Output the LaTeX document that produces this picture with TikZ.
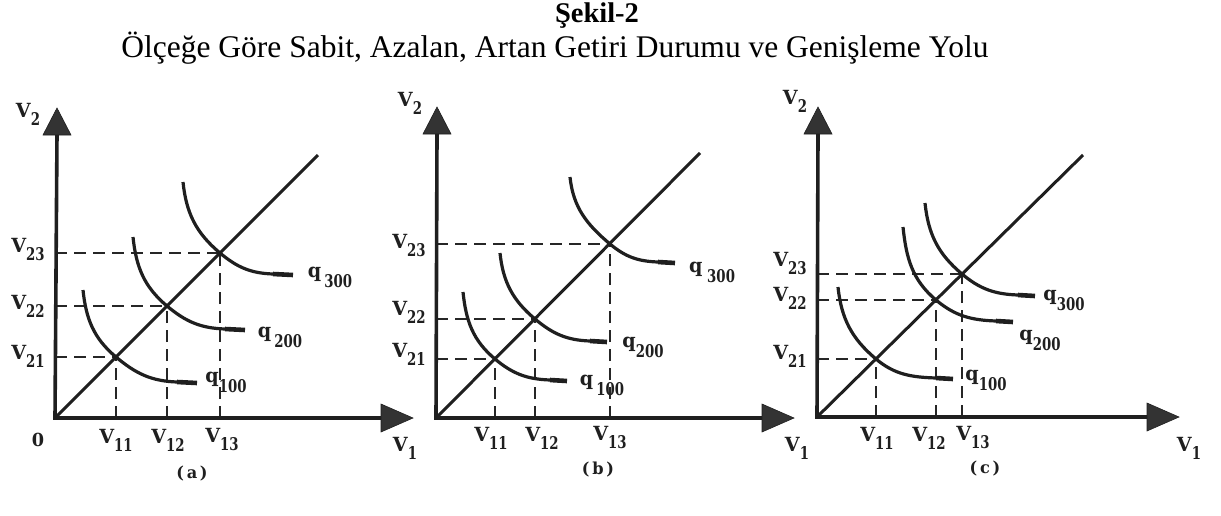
\documentclass[tikz,border=0pt]{standalone}
\usepackage{fontspec}
\setmainfont{Liberation Serif}
\newfontfamily\labV{DejaVu Serif}[FakeStretch=0.98]
\newfontfamily\labD{DejaVu Serif}[FakeStretch=0.76]
\newcommand\lv[2]{{\labV\bfseries\fontsize{19.5}{19.5}\selectfont #1}\raisebox{-8pt}{\labD\bfseries\fontsize{17.5}{17.5}\selectfont #2}}
\newcommand\qlab[2]{{\labV\bfseries\fontsize{19.5}{19.5}\selectfont #1}\raisebox{-10pt}{\labD\bfseries\fontsize{17.5}{17.5}\selectfont #2}}
\newcommand\caplab[1]{{\labV\bfseries\fontsize{16.5}{16.5}\selectfont(\,#1\,)}}
\begin{document}
\begin{tikzpicture}[x=1pt,y=1pt,
  axis/.style={line width=3.6pt, draw=black!88},
  ahead/.style={fill=black!80, draw=black!88, line width=0.6pt, line join=miter},
  ray/.style={line width=3pt, draw=black!88},
  iso/.style={line width=3.2pt, draw=black!88},
  isoend/.style={line width=4.6pt, draw=black!88},
  guide/.style={line width=2pt, draw=black!85, dash pattern=on 12pt off 7pt},
  lab/.style={inner sep=0pt, text=black!88}]
\useasboundingbox (0,-515) rectangle (1221,0);

% ---------- title ----------
\node[anchor=base, inner sep=0pt, font=\bfseries\fontsize{28.5}{28.5}\selectfont] (t1) at (597,-22) {Şekil-2};
\node[anchor=base, inner sep=0pt, font=\fontsize{31.5}{31.5}\selectfont] (t2) at (555,-57) {Ölçeğe Göre Sabit, Azalan, Artan Getiri Durumu ve Genişleme Yolu};

% ================= panel (a) =================
\coordinate (aO) at (55,-418);
\coordinate (aYb) at (57,-134); \coordinate (aYt) at (57,-108);
\coordinate (aXb) at (381,-418); \coordinate (aXt) at (413,-418);
\coordinate (aD) at (318,-155);
\coordinate (a1) at (116,-357);
\coordinate (a2) at (167,-306);
\coordinate (a3) at (220,-253);
\draw[guide] (aO |- a1) -- (a1); \draw[guide] (a1 |- aO) -- (a1);
\draw[guide] (aO |- a2) -- (a2); \draw[guide] (a2 |- aO) -- (a2);
\draw[guide] (aO |- a3) -- (a3); \draw[guide] (a3 |- aO) -- (a3);
\draw[axis] (aYb) -- (aO) -- (aXb);
\fill[ahead] (aYt) -- ++(-14,-27) -- ++(28,0) -- cycle;
\fill[ahead] (aXt) -- ++(-32,14) -- ++(0,-28) -- cycle;
\draw[ray] (aO) -- (aD);
\coordinate (aS1) at (83,-290); \coordinate (aE1) at (197,-383); \coordinate (aF1) at (177,-382);
\coordinate (aS2) at (133,-237); \coordinate (aE2) at (245,-330); \coordinate (aF2) at (225,-329);
\coordinate (aS3) at (183,-182); \coordinate (aE3) at (293,-275); \coordinate (aF3) at (273,-274);
\draw[iso] (aS1) to[out=-84,in=140] (a1) to[out=-40,in=178] (aF1);
\draw[isoend] (aF1) -- (aE1);
\draw[iso] (aS2) to[out=-84,in=140] (a2) to[out=-40,in=178] (aF2);
\draw[isoend] (aF2) -- (aE2);
\draw[iso] (aS3) to[out=-84,in=140] (a3) to[out=-40,in=178] (aF3);
\draw[isoend] (aF3) -- (aE3);
\node[lab] (aV2) at (28,-114) {\lv{V}{2}};
\node[lab] (aV23) at (28,-250) {\lv{V}{23}};
\node[lab] (aV22) at (28,-306) {\lv{V}{22}};
\node[lab] (aV21) at (28,-356) {\lv{V}{21}};
\node[lab] (a0) at (38,-440) {\labV\bfseries\fontsize{18}{18}\selectfont 0};
\node[lab] (aV11) at (116,-440) {\lv{V}{11}};
\node[lab] (aV12) at (168,-440) {\lv{V}{12}};
\node[lab] (aV13) at (222,-440) {\lv{V}{13}};
\node[lab] (aV1) at (405,-448) {\lv{V}{1}};
\node[lab] (aq100) at (226,-382) {\qlab{q}{100}};
\node[lab] (aq200) at (280,-337) {\qlab{q}{\,200}};
\node[lab] (aq300) at (330,-277) {\qlab{q}{\,300}};
\node[lab] (acap) at (192,-474) {\caplab{a}};

% ================= panel (b) =================
\coordinate (bO) at (436,-418);
\coordinate (bYb) at (437,-134); \coordinate (bYt) at (437,-107);
\coordinate (bXb) at (762,-418); \coordinate (bXt) at (794,-418);
\coordinate (bD) at (700,-153);
\coordinate (b1) at (495,-359);
\coordinate (b2) at (535,-319);
\coordinate (b3) at (610,-244);
\draw[guide] (bO |- b1) -- (b1); \draw[guide] (b1 |- bO) -- (b1);
\draw[guide] (bO |- b2) -- (b2); \draw[guide] (b2 |- bO) -- (b2);
\draw[guide] (bO |- b3) -- (b3); \draw[guide] (b3 |- bO) -- (b3);
\draw[axis] (bYb) -- (bO) -- (bXb);
\fill[ahead] (bYt) -- ++(-14,-27) -- ++(28,0) -- cycle;
\fill[ahead] (bXt) -- ++(-32,14) -- ++(0,-28) -- cycle;
\draw[ray] (bO) -- (bD);
\coordinate (bS1) at (463,-292); \coordinate (bE1) at (567,-381); \coordinate (bF1) at (550,-380);
\coordinate (bS2) at (500,-253); \coordinate (bE2) at (607,-342); \coordinate (bF2) at (590,-341);
\coordinate (bS3) at (570,-177); \coordinate (bE3) at (675,-263); \coordinate (bF3) at (658,-262);
\draw[iso] (bS1) to[out=-84,in=140] (b1) to[out=-40,in=178] (bF1);
\draw[isoend] (bF1) -- (bE1);
\draw[iso] (bS2) to[out=-84,in=140] (b2) to[out=-40,in=178] (bF2);
\draw[isoend] (bF2) -- (bE2);
\draw[iso] (bS3) to[out=-84,in=140] (b3) to[out=-40,in=178] (bF3);
\draw[isoend] (bF3) -- (bE3);
\node[lab] (bV2) at (410,-103) {\lv{V}{2}};
\node[lab] (bV23) at (409,-246) {\lv{V}{23}};
\node[lab] (bV22) at (409,-312) {\lv{V}{22}};
\node[lab] (bV21) at (409,-354) {\lv{V}{21}};
\node[lab] (bV11) at (491,-438) {\lv{V}{11}};
\node[lab] (bV12) at (542,-438) {\lv{V}{12}};
\node[lab] (bV13) at (610,-438) {\lv{V}{13}};
\node[lab] (bV1) at (797,-448) {\lv{V}{1}};
\node[lab] (bq100) at (602,-385) {\qlab{q}{\,100}};
\node[lab] (bq200) at (643,-347) {\qlab{q}{200}};
\node[lab] (bq300) at (712,-272) {\qlab{q}{\;300}};
\node[lab] (bcap) at (598,-470) {\caplab{b}};

% ================= panel (c) =================
\coordinate (cO) at (817,-417);
\coordinate (cYb) at (818,-134); \coordinate (cYt) at (818,-107);
\coordinate (cXb) at (1147,-417); \coordinate (cXt) at (1179,-417);
\coordinate (cD) at (1083,-155);
\coordinate (c1) at (876,-359);
\coordinate (c2) at (936,-300);
\coordinate (c3) at (962,-274);
\draw[guide] (cO |- c1) -- (c1); \draw[guide] (c1 |- cO) -- (c1);
\draw[guide] (cO |- c2) -- (c2); \draw[guide] (c2 |- cO) -- (c2);
\draw[guide] (cO |- c3) -- (c3); \draw[guide] (c3 |- cO) -- (c3);
\draw[axis] (cYb) -- (cO) -- (cXb);
\fill[ahead] (cYt) -- ++(-14,-27) -- ++(28,0) -- cycle;
\fill[ahead] (cXt) -- ++(-32,14) -- ++(0,-28) -- cycle;
\draw[ray] (cO) -- (cD);
\coordinate (cS1) at (838,-287); \coordinate (cE1) at (953,-379); \coordinate (cF1) at (936,-378);
\coordinate (cS2) at (903,-227); \coordinate (cE2) at (1013,-322); \coordinate (cF2) at (996,-321);
\coordinate (cS3) at (925,-203); \coordinate (cE3) at (1035,-296); \coordinate (cF3) at (1018,-295);
\draw[iso] (cS1) to[out=-84,in=140] (c1) to[out=-40,in=178] (cF1);
\draw[isoend] (cF1) -- (cE1);
\draw[iso] (cS2) to[out=-84,in=140] (c2) to[out=-40,in=178] (cF2);
\draw[isoend] (cF2) -- (cE2);
\draw[iso] (cS3) to[out=-84,in=140] (c3) to[out=-40,in=178] (cF3);
\draw[isoend] (cF3) -- (cE3);
\node[lab] (cV2) at (795,-101) {\lv{V}{2}};
\node[lab] (cV23) at (790,-264) {\lv{V}{23}};
\node[lab] (cV22) at (790,-298) {\lv{V}{22}};
\node[lab] (cV21) at (790,-356) {\lv{V}{21}};
\node[lab] (cV11) at (877,-438) {\lv{V}{11}};
\node[lab] (cV12) at (929,-438) {\lv{V}{12}};
\node[lab] (cV13) at (973,-438) {\lv{V}{13}};
\node[lab] (cV1) at (1189,-448) {\lv{V}{1}};
\node[lab] (cq100) at (986,-380) {\qlab{q}{100}};
\node[lab] (cq200) at (1040,-340) {\qlab{q}{200}};
\node[lab] (cq300) at (1064,-300) {\qlab{q}{300}};
\node[lab] (ccap) at (985,-469) {\caplab{c}};
\end{tikzpicture}
\end{document}
